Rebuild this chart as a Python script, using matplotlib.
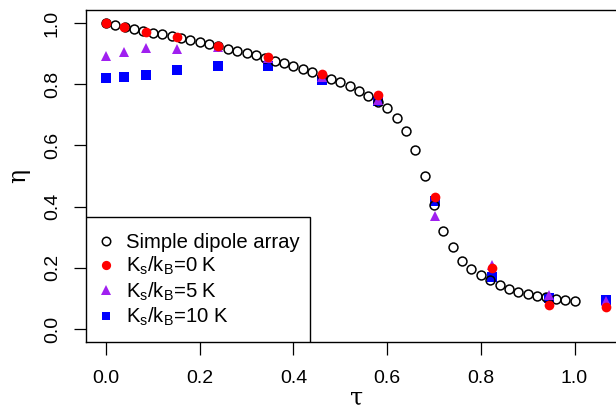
import matplotlib
matplotlib.use("Agg")
import matplotlib.pyplot as plt
from matplotlib.patches import Rectangle

plt.rcParams['font.family'] = ['Liberation Sans', 'DejaVu Sans']
plt.rcParams['mathtext.fontset'] = 'custom'
plt.rcParams['mathtext.rm'] = 'Liberation Sans'

# simple dipole array (open circles)
tau_dipole = [0.00, 0.02, 0.04, 0.06, 0.08, 0.10, 0.12, 0.14, 0.16, 0.18,
              0.20, 0.22, 0.24, 0.26, 0.28, 0.30, 0.32, 0.34, 0.36, 0.38,
              0.40, 0.42, 0.44, 0.46, 0.48, 0.50, 0.52, 0.54, 0.56, 0.58,
              0.60, 0.62, 0.64, 0.66, 0.68, 0.70, 0.72, 0.74, 0.76, 0.78,
              0.80, 0.82, 0.84, 0.86, 0.88, 0.90, 0.92, 0.94, 0.96, 0.98, 1.00]
eta_dipole = [1.000, 0.993, 0.988, 0.980, 0.975, 0.968, 0.963, 0.957, 0.950, 0.943,
              0.937, 0.931, 0.924, 0.916, 0.909, 0.902, 0.895, 0.887, 0.877, 0.868,
              0.860, 0.850, 0.839, 0.828, 0.817, 0.806, 0.793, 0.779, 0.762, 0.743,
              0.721, 0.691, 0.648, 0.585, 0.501, 0.405, 0.321, 0.267, 0.223, 0.195,
              0.175, 0.160, 0.144, 0.131, 0.122, 0.116, 0.109, 0.104, 0.098, 0.095, 0.092]

# simulations
tau_sim = [0.0, 0.038, 0.086, 0.151, 0.238, 0.345, 0.462, 0.581, 0.702, 0.823, 0.945, 1.068]
eta_k0 = [0.999, 0.988, 0.972, 0.953, 0.926, 0.888, 0.833, 0.765, 0.432, 0.198, 0.078, 0.073]
eta_k5 = [0.893, 0.905, 0.917, 0.915, 0.922, 0.885, 0.822, 0.748, 0.369, 0.209, 0.111, 0.092]
eta_k10 = [0.821, 0.824, 0.831, 0.847, 0.860, 0.860, 0.814, 0.744, 0.419, 0.171, 0.100, 0.095]

fig = plt.figure(figsize=(6.16, 4.15), dpi=100)
ax = fig.add_axes([86 / 616, 73 / 415, 541.5 / 616, 332 / 415])

h10, = ax.plot(tau_sim, eta_k10, 's', color='#0000FF', ms=6.8, mew=0, ls='none')
hd, = ax.plot(tau_dipole, eta_dipole, 'o', mfc='none', mec='black', mew=1.1, ms=6.4, ls='none')
h5, = ax.plot(tau_sim, eta_k5, '^', color='#A020F0', ms=7.6, mew=0, ls='none')
h0, = ax.plot(tau_sim, eta_k0, 'o', color='#FF0000', ms=7.0, mew=0, ls='none')

ax.set_xlim(-0.0427, 1.113)
ax.set_ylim(-0.0425, 1.0425)
ax.set_xticks([0.0, 0.2, 0.4, 0.6, 0.8, 1.0])
ax.set_yticks([0.0, 0.2, 0.4, 0.6, 0.8, 1.0])
ax.set_xticklabels(['0.0', '0.2', '0.4', '0.6', '0.8', '1.0'])
ax.set_yticklabels(['0.0', '0.2', '0.4', '0.6', '0.8', '1.0'], rotation=90, va='center')
ax.tick_params(length=9, width=0.9, labelsize=14, pad=11)
ax.tick_params(axis='y', pad=9)
for s in ax.spines.values():
    s.set_linewidth(1.0)

ax.set_xlabel('τ', family=['DejaVu Serif'], fontsize=17, labelpad=0)
ax.set_ylabel('η', family=['DejaVu Serif'], fontsize=17, labelpad=10)

# legend box drawn by hand (taller than matplotlib's own frame)
ax.add_patch(Rectangle((0, 0), 224 / 541.5, 125.3 / 332, transform=ax.transAxes,
                       facecolor='white', edgecolor='black', lw=1.0, zorder=4))
leg = ax.legend([hd, h0, h5, h10],
                ['Simple dipole array',
                 r'K$_\mathrm{s}$/k$_\mathrm{B}$=0 K',
                 r'K$_\mathrm{s}$/k$_\mathrm{B}$=5 K',
                 r'K$_\mathrm{s}$/k$_\mathrm{B}$=10 K'],
                loc='center left', bbox_to_anchor=(14 / 541.5, 61.5 / 332), borderaxespad=0,
                borderpad=0, frameon=False, fontsize=14.6,
                handlelength=0.55, handletextpad=0.75, labelspacing=0.16,
                markerscale=0.95)
leg.set_zorder(5)

fig.savefig('out.png', dpi=100)
